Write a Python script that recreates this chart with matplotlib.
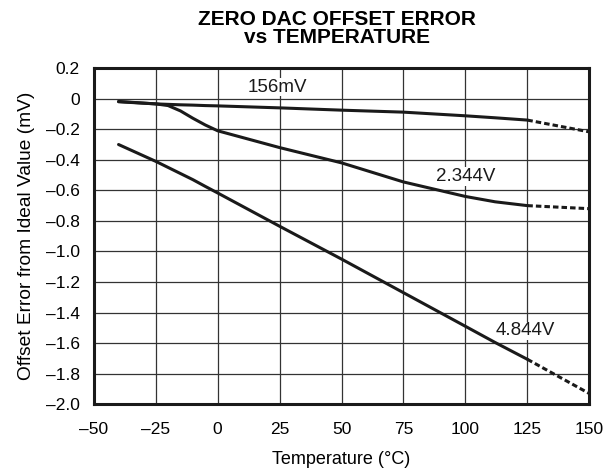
import matplotlib
matplotlib.use("Agg")
import matplotlib.pyplot as plt

plt.rcParams['font.family'] = ['Liberation Sans', 'DejaVu Sans']

# Data
temp_solid = [-40, -25, -20, -15, -10, -5, 0, 25, 50, 75, 100, 112, 125]
temp_dash = [125, 150]
v156_solid = [-0.018, -0.034, -0.037, -0.040, -0.042, -0.045, -0.047, -0.060, -0.075, -0.088,
              -0.112, -0.125, -0.140]
v156_dash = [-0.140, -0.217]
v2344_solid = [-0.02, -0.034, -0.045, -0.080, -0.128, -0.172, -0.21, -0.32, -0.42, -0.545,
               -0.64, -0.675, -0.70]
v2344_dash = [-0.70, -0.72]
v4844_solid = [-0.30, -0.41, -0.45, -0.49, -0.53, -0.574, -0.617, -0.835, -1.05, -1.27,
               -1.49, -1.596, -1.706]
v4844_dash = [-1.706, -1.93]

xticks = [-50, -25, 0, 25, 50, 75, 100, 125, 150]
yticks = [0.2, 0, -0.2, -0.4, -0.6, -0.8, -1.0, -1.2, -1.4, -1.6, -1.8, -2.0]

def fmt_x(v):
    return ("\u2013" + str(abs(v))) if v < 0 else str(v)

def fmt_y(v):
    if abs(v) < 1e-9:
        return "0"
    s = "%.1f" % abs(v)
    return ("\u2013" + s) if v < 0 else s

fig = plt.figure(figsize=(6.05, 4.70), dpi=100)
ax = fig.add_axes([0.155, 0.140, 0.819, 0.715])

for ys, yd in [(v156_solid, v156_dash), (v2344_solid, v2344_dash), (v4844_solid, v4844_dash)]:
    ax.plot(temp_solid, ys, color='#1a1a1a', lw=2.2, solid_capstyle='round', zorder=3)
    ax.plot(temp_dash, yd, color='#1a1a1a', lw=2.2, linestyle=(0, (1.8, 1.0)), zorder=3)

ax.set_xlim(-50, 150)
ax.set_ylim(-2.0, 0.2)
ax.set_xticks(xticks)
ax.set_xticklabels([fmt_x(v) for v in xticks], fontsize=12.5)
ax.set_yticks(yticks)
ax.set_yticklabels([fmt_y(v) for v in yticks], fontsize=12.5)
ax.tick_params(axis='x', length=0, pad=13)
ax.tick_params(axis='y', length=0, pad=10)
ax.grid(True, color='#333333', lw=0.9)
ax.set_axisbelow(True)
for s in ax.spines.values():
    s.set_linewidth(2.2)
    s.set_color('#1a1a1a')

bb = dict(facecolor='white', edgecolor='none', pad=0.5)
ax.text(24, 0.075, "156mV", fontsize=13.5, ha='center', va='center', color='#1a1a1a', bbox=bb)
ax.text(100, -0.51, "2.344V", fontsize=13.5, ha='center', va='center', color='#1a1a1a', bbox=bb)
ax.text(124, -1.52, "4.844V", fontsize=13.5, ha='center', va='center', color='#1a1a1a', bbox=bb)

ax.set_xlabel("Temperature (\u00b0C)", fontsize=13, labelpad=10)
ax.set_ylabel("Offset Error from Ideal Value (mV)", fontsize=13.8, labelpad=8)
fig.text(0.557, 0.978, "ZERO DAC OFFSET ERROR\nvs TEMPERATURE", fontsize=15,
         fontweight='bold', ha='center', va='top', linespacing=0.92)

fig.savefig("out.png", dpi=100, facecolor='white')
